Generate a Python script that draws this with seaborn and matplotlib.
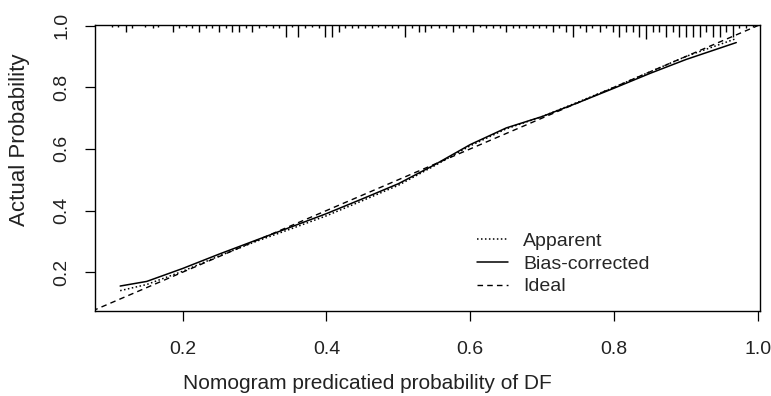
import numpy as np
import pandas as pd
import matplotlib
matplotlib.use("Agg")
import matplotlib.pyplot as plt
import seaborn as sns

# ---- data ----
pred = [0.113, 0.15, 0.2, 0.25, 0.3, 0.35, 0.4, 0.45, 0.5, 0.55, 0.6,
        0.65, 0.7, 0.75, 0.8, 0.85, 0.9, 0.97]
apparent = [0.140, 0.160, 0.203, 0.252, 0.298, 0.340, 0.383, 0.432, 0.482,
            0.545, 0.610, 0.665, 0.705, 0.752, 0.800, 0.850, 0.900, 0.958]
bias_corrected = [0.155, 0.170, 0.212, 0.258, 0.302, 0.346, 0.390, 0.438,
                  0.487, 0.548, 0.614, 0.668, 0.705, 0.750, 0.797, 0.845,
                  0.890, 0.945]
ideal = [0.0, 1.1]

# rug of predicted probabilities at the top (position, relative frequency)
rug_x = [0.102, 0.110, 0.121, 0.130, 0.148, 0.158, 0.166, 0.186, 0.195,
         0.204, 0.213, 0.223, 0.232, 0.241, 0.251, 0.260, 0.269, 0.278,
         0.288, 0.297, 0.306, 0.316, 0.325, 0.334, 0.343, 0.352, 0.361,
         0.370, 0.380, 0.389, 0.398, 0.407, 0.417, 0.426, 0.435, 0.444,
         0.454, 0.463, 0.472, 0.482, 0.491, 0.500, 0.509, 0.519, 0.528,
         0.537, 0.546, 0.557, 0.566, 0.576, 0.585, 0.594, 0.604, 0.613,
         0.622, 0.631, 0.641, 0.650, 0.659, 0.668, 0.678, 0.687, 0.696,
         0.706, 0.715, 0.724, 0.733, 0.743, 0.752, 0.761, 0.770, 0.780,
         0.789, 0.798, 0.807, 0.817, 0.826, 0.835, 0.845, 0.854, 0.863,
         0.872, 0.882, 0.891, 0.900, 0.910, 0.919, 0.928, 0.937, 0.947,
         0.956, 0.965, 0.974, 0.984, 0.993]
rug_n = [1, 1, 4, 2, 1, 2, 1, 4, 2,
         1, 2, 4, 2, 2, 4, 2, 4, 4,
         2, 4, 2, 1, 2, 2, 7, 1, 7,
         2, 1, 2, 7, 7, 4, 2, 2, 2,
         2, 2, 1, 2, 2, 2, 7, 2, 4,
         4, 2, 2, 2, 4, 2, 2, 4, 1,
         2, 2, 2, 4, 2, 2, 2, 2, 2,
         2, 4, 2, 4, 7, 2, 4, 2, 4,
         2, 4, 7, 4, 4, 7, 8, 4, 4,
         7, 4, 7, 7, 7, 7, 4, 7, 7,
         4, 7, 2, 2, 1]

xticks = [0.2, 0.4, 0.6, 0.8, 1.0]
yticks = [0.2, 0.4, 0.6, 0.8, 1.0]
tick_labels = ["0.2", "0.4", "0.6", "0.8", "1.0"]

sns.set_theme(style="white")
plt.rcParams['font.family'] = ['Liberation Sans', 'DejaVu Sans']

fig = plt.figure(figsize=(7.71, 3.96), dpi=100)
ax = fig.add_axes([95 / 771, 85 / 396, 665 / 771, 286 / 396])

sns.lineplot(x=pred, y=apparent, ax=ax, color='black', linewidth=1.1,
             linestyle=(0, (1, 1.6)), label='Apparent')
sns.lineplot(x=pred, y=bias_corrected, ax=ax, color='black', linewidth=1.1,
             linestyle='-', label='Bias-corrected')
sns.lineplot(x=ideal, y=ideal, ax=ax, color='black', linewidth=1.0,
             linestyle=(0, (4, 3)), label='Ideal')

h = np.array(rug_n) * (1.7 / 286)
ax.vlines(rug_x, 1 - h, 1, transform=ax.get_xaxis_transform(),
          color='black', linewidth=1.0)

ax.set_xlim(0.078, 1.003)
ax.set_ylim(0.074, 1.002)
ax.set_xticks(xticks)
ax.set_xticklabels(tick_labels)
ax.set_yticks(yticks)
ax.set_yticklabels(tick_labels, rotation=90, va='center')

for s in ax.spines.values():
    s.set_visible(True)
    s.set_color('black')
    s.set_linewidth(1.0)

ax.tick_params(axis='both', direction='out', length=7.5, width=0.9,
               colors='black', labelsize=14,
               bottom=True, left=True, top=False, right=False)
ax.tick_params(axis='x', pad=14)
ax.tick_params(axis='y', pad=10)
for t in ax.get_xticklabels() + ax.get_yticklabels():
    t.set_color('#222222')

ax.set_xlabel("Nomogram predicatied probability of DF", fontsize=15,
              color='#222222')
ax.xaxis.set_label_coords(0.409, -0.255)
ax.xaxis.label.set_va('center')
ax.set_ylabel("Actual Probability", fontsize=16, color='#222222')
ax.yaxis.set_label_coords(-0.113, 0.60)
ax.yaxis.label.set_va('center')

ax.legend(loc='upper left', bbox_to_anchor=(0.574, 0.276), frameon=False,
          fontsize=14, handlelength=1.6, handletextpad=0.8,
          labelspacing=0.27, borderpad=0, borderaxespad=0)

fig.savefig("out.png", dpi=100, facecolor='white')
